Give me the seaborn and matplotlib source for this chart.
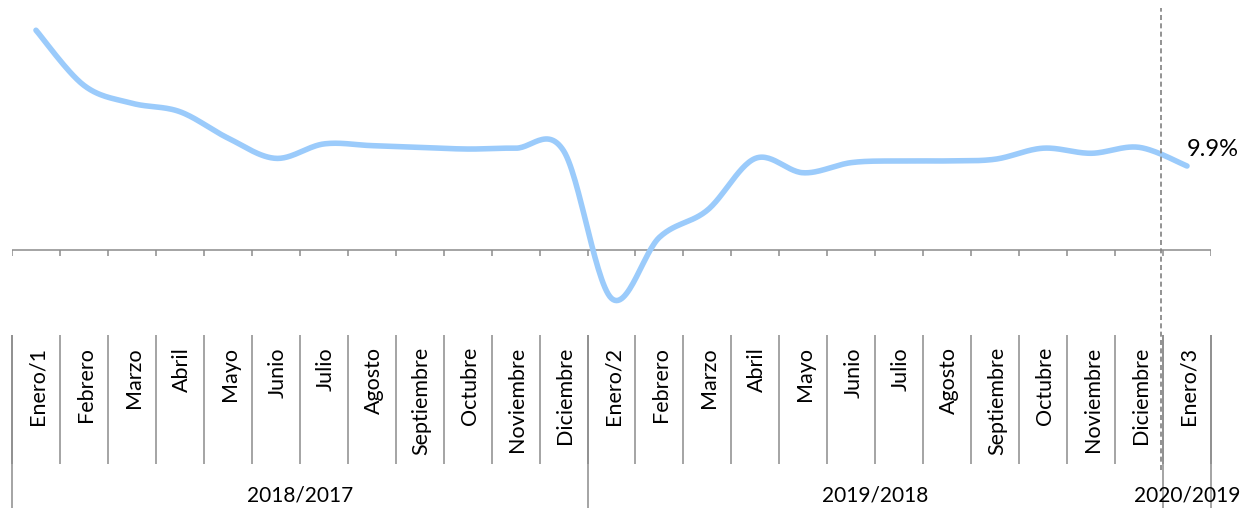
import numpy as np
import pandas as pd
import matplotlib
matplotlib.use("Agg")
import matplotlib.pyplot as plt
import seaborn as sns
from matplotlib.transforms import blended_transform_factory

# ---------------- data ----------------
months = ["Enero/1", "Febrero", "Marzo", "Abril", "Mayo", "Junio", "Julio", "Agosto",
          "Septiembre", "Octubre", "Noviembre", "Diciembre",
          "Enero/2", "Febrero", "Marzo", "Abril", "Mayo", "Junio", "Julio", "Agosto",
          "Septiembre", "Octubre", "Noviembre", "Diciembre",
          "Enero/3"]
values = [25.9, 19.4, 17.3, 16.3, 13.2, 10.8, 12.5, 12.3, 12.1, 11.9, 12.0, 11.7,
          -5.7, 1.5, 4.7, 10.8, 9.1, 10.3, 10.5, 10.5, 10.7, 12.0, 11.4, 12.1,
          9.9]
groups = ["2018/2017", "2019/2018", "2020/2019"]
group_sizes = [12, 12, 1]
last_label = "9.9%"

# ---------------- style ----------------
sns.set_theme(style="white")
plt.rcParams['font.family'] = ['Lato', 'DejaVu Sans']

W, H = 1250, 508
fig = plt.figure(figsize=(W / 100, H / 100), dpi=100)
# plot area: x 12..1211 px, y 10..310 px; zero at 250 px
ax = fig.add_axes([12 / W, (H - 310) / H, 1199 / W, 300 / H])
scale = 9.9 / 84.0
ax.set_xlim(-0.5, len(values) - 0.5)
ax.set_ylim(-(310 - 250) * scale, (250 - 10) * scale)
ax.axis("off")

line_col = "#9BCBFB"
grey = "#8C8C8C"

# smoothed line (Excel-style Bezier smoothing through the data points)
x = np.arange(len(values), dtype=float)
y = np.array(values, dtype=float)
px = np.concatenate([[x[0]], x, [x[-1]]])
py = np.concatenate([[y[0]], y, [y[-1]]])
t = np.linspace(0, 1, 30)
xs, ys = [], []
for i in range(1, len(px) - 2):
    p0 = np.array([px[i], py[i]])
    p3 = np.array([px[i + 1], py[i + 1]])
    c1 = p0 + (np.array([px[i + 1], py[i + 1]]) - np.array([px[i - 1], py[i - 1]])) / 6
    c2 = p3 - (np.array([px[i + 2], py[i + 2]]) - np.array([px[i], py[i]])) / 6
    b = ((1 - t) ** 3)[:, None] * p0 + (3 * (1 - t) ** 2 * t)[:, None] * c1 \
        + (3 * (1 - t) * t ** 2)[:, None] * c2 + (t ** 3)[:, None] * p3
    xs.append(b[:, 0]); ys.append(b[:, 1])
smooth = pd.DataFrame({"x": np.concatenate(xs), "y": np.concatenate(ys)})
sns.lineplot(data=smooth, x="x", y="y", ax=ax, color=line_col, linewidth=4.0,
             sort=False, estimator=None, solid_capstyle="round")

# horizontal axis at zero with ticks
ax.axhline(0, color=grey, lw=1.1, zorder=1)
bounds = np.arange(len(values) + 1) - 0.5
ax.vlines(bounds, -6 * scale, 0, color=grey, lw=1.1, zorder=1)

# value label
ax.text(len(values) - 1 + 0.0, values[-1] + 1.9, last_label, fontsize=17,
        color="#000000", ha="left", va="center")

# category label area (figure pixel y)
tr = blended_transform_factory(ax.transData, fig.transFigure)
fy = lambda p: 1 - p / H
ax.vlines(bounds, fy(464), fy(335), color=grey, lw=1.1, transform=tr, clip_on=False)
gb = np.concatenate([[0], np.cumsum(group_sizes)]) - 0.5
ax.vlines(gb, fy(H), fy(335), color=grey, lw=1.1, transform=tr, clip_on=False)
for i, m in enumerate(months):
    ax.text(i + 0.04, fy(347), m, rotation=90, ha="center", va="top", fontsize=15.5,
            color="#000000", transform=tr, clip_on=False)
for g, a, b in zip(groups, gb[:-1], gb[1:]):
    ax.text((a + b) / 2, fy(495), g, ha="center", va="center", fontsize=15,
            color="#000000", transform=tr, clip_on=False)

# dashed vertical marker before last point
ax.vlines(len(values) - 1.55, fy(470), fy(8), color="#808080", lw=1.2,
          linestyles=(0, (3, 2)), transform=tr, clip_on=False, zorder=3)

fig.savefig("out.png", dpi=100, facecolor="white")
